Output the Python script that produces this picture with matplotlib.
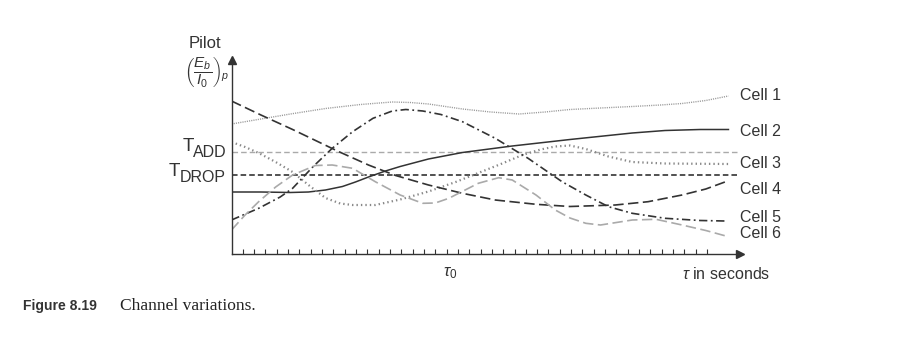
import matplotlib
matplotlib.use("Agg")
import matplotlib.pyplot as plt

plt.rcParams['font.family'] = ['Liberation Sans', 'DejaVu Sans']
plt.rcParams['mathtext.fontset'] = 'custom'
plt.rcParams['mathtext.rm'] = 'Liberation Sans'
plt.rcParams['mathtext.it'] = 'Liberation Sans:italic'
plt.rcParams['lines.scale_dashes'] = False

# time in tick units, level in arbitrary units
cell1_t = [0, 2.6, 5.2, 8.3, 11.4, 14.2, 15.8, 17.4, 20.4, 22.9, 25.4, 27.7, 29.9, 32.6, 35.4, 37.9, 39.8, 41.9, 43.9]
cell1_v = [13.0, 13.5, 14.0, 14.55, 14.95, 15.2, 15.15, 15.0, 14.5, 14.2, 14.0, 14.2, 14.45, 14.6, 14.75, 14.9, 15.05, 15.35, 15.8]

cell2_t = [0, 2.6, 5.2, 6.8, 8.3, 9.8, 10.95, 12.1, 13.6, 14.9, 17.4, 20.4, 24.8, 29.9, 35.4, 38.3, 41.4, 43.9]
cell2_v = [6.2, 6.2, 6.15, 6.2, 6.4, 6.75, 7.2, 7.7, 8.3, 8.75, 9.5, 10.15, 10.8, 11.45, 12.1, 12.35, 12.45, 12.45]

cell3_t = [0, 1.2, 2.4, 3.9, 5.4, 6.8, 8.3, 9.6, 10.7, 12.7, 14.9, 17.4, 19.8, 21.8, 23.8, 25.7, 27.3, 28.6, 29.9, 31.3, 33.3, 35.4, 38.3, 43.9]
cell3_v = [11.2, 10.7, 10.1, 9.2, 8.2, 6.9, 5.6, 5.05, 4.9, 4.9, 5.45, 6.25, 7.2, 8.1, 9.0, 9.9, 10.45, 10.75, 10.85, 10.5, 9.75, 9.2, 9.05, 9.0]

cell4_t = [0, 2.6, 5.4, 9.45, 12.1, 14.5, 17.4, 20.4, 23.3, 26.9, 29.9, 33.9, 36.8, 39.8, 41.9, 43.9]
cell4_v = [15.3, 13.9, 12.45, 10.25, 8.9, 7.85, 6.9, 6.07, 5.4, 4.97, 4.75, 4.9, 5.23, 5.9, 6.5, 7.33]

cell5_t = [0, 2.4, 4.3, 5.4, 7.2, 8.9, 10.7, 12.5, 14.2, 15.4, 16.9, 18.5, 20.4, 23.3, 26.2, 29.2, 31.3, 33.3, 35.4, 38.3, 41.4, 43.6]
cell5_v = [3.4, 4.57, 5.7, 6.57, 8.73, 10.57, 12.23, 13.57, 14.3, 14.45, 14.3, 13.95, 13.23, 11.57, 9.57, 7.23, 5.9, 4.73, 4.07, 3.57, 3.35, 3.3]

cell6_t = [0, 1.2, 2.4, 3.9, 5.4, 7.4, 8.9, 10.7, 12.7, 14.9, 16.9, 18.0, 19.2, 21.8, 23.6, 24.8, 26.9, 28.6, 29.9, 31.3, 32.6, 35.4, 37.5, 39.8, 41.9, 43.9]
cell6_v = [2.4, 3.9, 5.23, 6.7, 7.9, 8.85, 8.9, 8.57, 7.23, 5.9, 5.07, 5.1, 5.57, 7.07, 7.63, 7.4, 5.9, 4.4, 3.6, 3.07, 2.9, 3.4, 3.47, 2.9, 2.35, 1.73]

t_add = 10.23
t_drop = 7.9
thresh_end = 44.9

cell_names = ['Cell 1', 'Cell 2', 'Cell 3', 'Cell 4', 'Cell 5', 'Cell 6']
label_v = [15.9, 12.3, 9.1, 6.4, 3.7, 2.0]
tick_pos = list(range(1, 43))
tau0_t = 19.3

W, H = 902, 341
fig = plt.figure(figsize=(W / 100, H / 100), dpi=100)
ax = fig.add_axes([231.5 / W, 1 - 254 / H, (740 - 231.5) / W, (254 - 60) / H])
ax.set_xlim(0, (740 - 231.5) / 11.32)
ax.set_ylim(0, 19.4)

dark = '#333333'
ax.plot([0, thresh_end], [t_add, t_add], color='#aaaaaa', lw=1.0, dashes=(4, 2.2))
ax.plot([0, thresh_end], [t_drop, t_drop], color=dark, lw=1.2, dashes=(4, 2.2))

ax.plot(cell1_t, cell1_v, color='#999999', lw=1.0, dashes=(0.8, 0.8))
ax.plot(cell2_t, cell2_v, color=dark, lw=1.1)
ax.plot(cell3_t, cell3_v, color='#888888', lw=1.6, dashes=(1.0, 2.2))
ax.plot(cell4_t, cell4_v, color=dark, lw=1.2, dashes=(7.5, 3.2))
ax.plot(cell5_t, cell5_v, color=dark, lw=1.2, dashes=(6, 2.5, 1.3, 2.5))
ax.plot(cell6_t, cell6_v, color='#aaaaaa', lw=1.2, dashes=(7.5, 3.2))

for name, v in zip(cell_names, label_v):
    ax.text(44.96, v, name, fontsize=11.5, color=dark, va='center', ha='left', clip_on=False)

for s in ['top', 'right']:
    ax.spines[s].set_visible(False)
for s in ['left', 'bottom']:
    ax.spines[s].set_color(dark)
    ax.spines[s].set_linewidth(1.0)
ax.set_xticks(tick_pos)
ax.set_xticklabels([])
ax.set_yticks([])
ax.tick_params(axis='x', direction='in', length=3.6, width=0.8, color=dark)

# axis arrows
ax.plot(1, 0, '>', color=dark, ms=6, transform=ax.get_yaxis_transform(), clip_on=False)
ax.plot(0, 1, '^', color=dark, ms=6, transform=ax.get_xaxis_transform(), clip_on=False)

ax.text(tau0_t, -1.9, r'$\tau_0$', fontsize=12, color=dark, ha='center', va='center', clip_on=False)
fig.text(726 / W, 1 - 274 / H, r'$\tau$' + ' in seconds', fontsize=11.5, color=dark, ha='center', va='center')

fig.text(205 / W, 1 - 43.5 / H, 'Pilot', fontsize=12, color=dark, ha='center', va='center')
fig.text(207 / W, 1 - 72.5 / H, r'$\left(\dfrac{E_b}{I_0}\right)_p$', fontsize=11, color=dark,
         ha='center', va='center')

add = fig.text(226.7 / W, 1 - 152.5 / H, 'ADD', fontsize=11.5, color=dark, ha='right', va='center')
ax.annotate('T', xy=(0, 0.5), xycoords=add, xytext=(0.5, 4), textcoords='offset points',
            fontsize=13.5, color=dark, ha='right', va='center')
drop = fig.text(225.5 / W, 1 - 177 / H, 'DROP', fontsize=11.5, color=dark, ha='right', va='center')
ax.annotate('T', xy=(0, 0.5), xycoords=drop, xytext=(0.5, 4), textcoords='offset points',
            fontsize=13.5, color=dark, ha='right', va='center')

fig.text(22.7 / W, 1 - 306 / H, 'Figure 8.19', fontsize=10, fontweight='bold', color=dark,
         ha='left', va='center')
fig.text(120 / W, 1 - 306 / H, 'Channel variations.', fontsize=12.5, color='#222222',
         family=['Liberation Serif', 'DejaVu Serif'], ha='left', va='center')

fig.savefig('out.png', dpi=100)
